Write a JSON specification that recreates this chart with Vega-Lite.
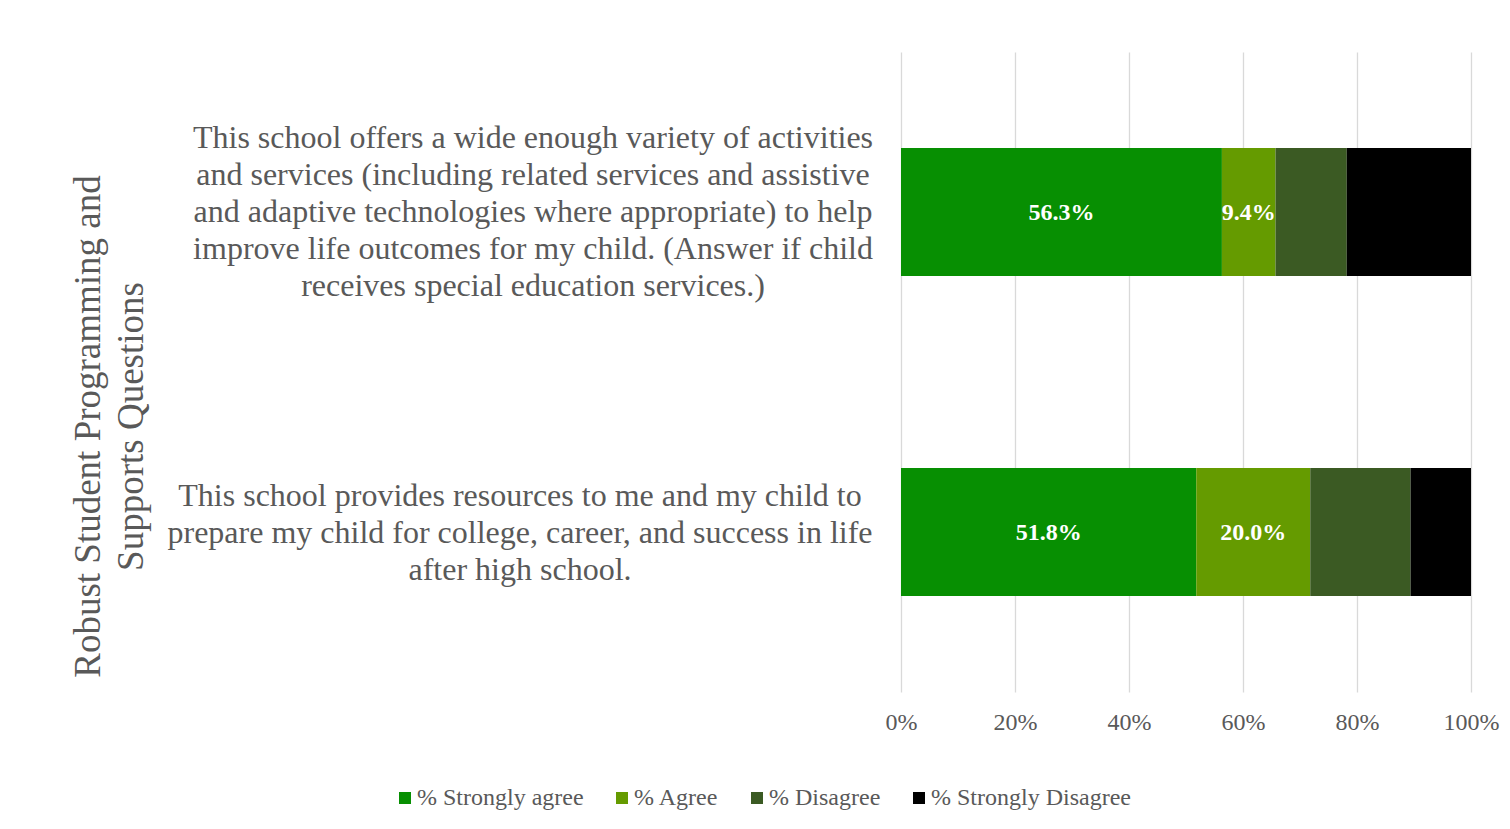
{
  "$schema": "https://vega.github.io/schema/vega-lite/v6.json",
  "width": 570,
  "height": 640,
  "autosize": "none",
  "padding": {"left": 901, "top": 52, "right": 39, "bottom": 137},
  "background": "white",
  "config": {"view": {"stroke": null}, "font": "Liberation Serif"},
  "data": {
    "values": [
      {"q": "q1", "resp": "% Strongly agree", "order": 1, "share": 0.563},
      {"q": "q1", "resp": "% Agree", "order": 2, "share": 0.094},
      {"q": "q1", "resp": "% Disagree", "order": 3, "share": 0.125},
      {"q": "q1", "resp": "% Strongly Disagree", "order": 4, "share": 0.218},
      {"q": "q2", "resp": "% Strongly agree", "order": 1, "share": 0.518},
      {"q": "q2", "resp": "% Agree", "order": 2, "share": 0.200},
      {"q": "q2", "resp": "% Disagree", "order": 3, "share": 0.176},
      {"q": "q2", "resp": "% Strongly Disagree", "order": 4, "share": 0.106}
    ]
  },
  "transform": [
    {"stack": "share", "groupby": ["q"], "sort": [{"field": "order"}], "as": ["s0", "s1"]},
    {"calculate": "(datum.s0 + datum.s1) / 2", "as": "mid"}
  ],
  "encoding": {
    "y": {
      "field": "q",
      "type": "nominal",
      "sort": ["q1", "q2"],
      "scale": {"paddingInner": 0.6, "paddingOuter": 0.3},
      "axis": {
        "title": ["Robust Student Programming and", "Supports Questions"],
        "titleFontSize": 37,
        "titleFontWeight": "normal",
        "titleColor": "#595959",
        "titleLineHeight": 43,
        "titleAngle": 270,
        "titleX": -813,
        "titleY": 374,
        "titleAlign": "center",
        "titleBaseline": "middle",
        "labelFontSize": 32,
        "labelLineHeight": 37,
        "labelAlign": "center",
        "labelBaseline": "middle",
        "labelPadding": {"condition": {"test": "datum.value === 'q1'", "value": 368.5}, "value": 381.5},
        "labelOffset": {"condition": {"test": "datum.value === 'q1'", "value": -74}, "value": -36},
        "labelLimit": 0,
        "labelColor": "#595959",
        "ticks": false,
        "domain": false,
        "grid": false,
        "labelExpr": "datum.value === 'q1' ? ['This school offers a wide enough variety of activities', 'and services (including related services and assistive', 'and adaptive technologies where appropriate) to help', 'improve life outcomes for my child. (Answer if child', 'receives special education services.)'] : ['This school provides resources to me and my child to', 'prepare my child for college, career, and success in life', 'after high school.']"
      }
    }
  },
  "layer": [
    {
      "mark": {"type": "bar"},
      "encoding": {
        "x": {
          "field": "s0",
          "type": "quantitative",
          "scale": {"domain": [0, 1]},
          "axis": {
            "values": [0, 0.2, 0.4, 0.6, 0.8, 1],
            "format": ".0%",
            "title": null,
            "grid": true,
            "gridColor": "#D9D9D9",
            "gridWidth": 1.3,
            "domain": false,
            "ticks": false,
            "labelFontSize": 24,
            "labelColor": "#595959",
            "labelPadding": 18,
            "labelFlush": false
          }
        },
        "x2": {"field": "s1"},
        "color": {
          "field": "resp",
          "type": "nominal",
          "scale": {
            "domain": ["% Strongly agree", "% Agree", "% Disagree", "% Strongly Disagree"],
            "range": ["#078F02", "#659B00", "#3B5A23", "#000000"]
          },
          "legend": {
            "orient": "none",
            "legendX": -508,
            "legendY": 734,
            "direction": "horizontal",
            "title": null,
            "symbolType": "square",
            "symbolSize": 144,
            "symbolStrokeWidth": 0,
            "labelFontSize": 24,
            "labelColor": "#595959",
            "columnPadding": 26,
            "labelOffset": 0,
            "labelLimit": 0
          }
        }
      }
    },
    {
      "transform": [{"filter": "datum.order <= 2"}],
      "mark": {"type": "text", "color": "white", "fontWeight": "bold", "fontSize": 24, "baseline": "middle", "align": "center", "dy": 1},
      "encoding": {
        "x": {"field": "mid", "type": "quantitative"},
        "text": {"field": "share", "type": "quantitative", "format": ".1%"}
      }
    }
  ]
}
